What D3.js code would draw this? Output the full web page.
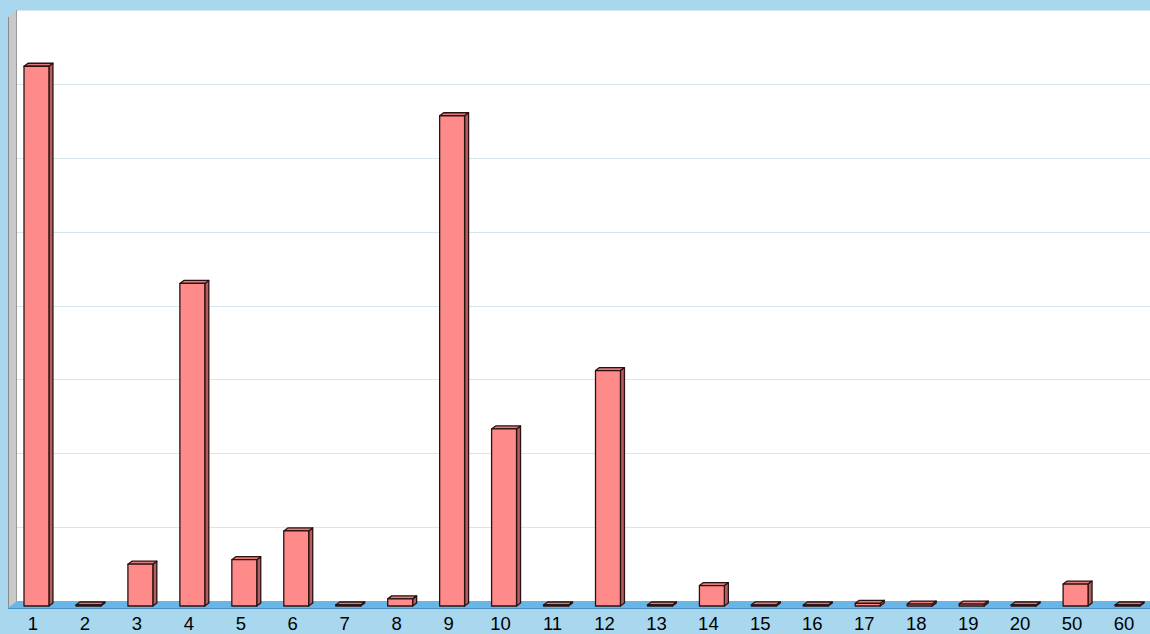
<!DOCTYPE html>
<html><head><meta charset="utf-8">
<script src="https://cdn.jsdelivr.net/npm/d3@7"></script>
<style>html,body{margin:0;padding:0;background:#a9d8ee;overflow:hidden}</style>
</head><body>
<svg id="chart" width="1150" height="634"></svg>
<script>
const categories = ["1","2","3","4","5","6","7","8","9","10","11","12","13","14","15","16","17","18","19","20","50","60"];
const values = [7.32,0.02,0.58,4.38,0.64,1.03,0.02,0.11,6.65,2.41,0.02,3.20,0.02,0.29,0.03,0.02,0.05,0.04,0.04,0.02,0.31,0.02];
const gridTicks = [1,2,3,4,5,6,7,8];

const svg = d3.select("#chart");
const W = 1150, H = 634;
const left = 8, baseFront = 608, topBack = 10;
const wdx = 9, wdy = -7;           // wall depth offset
const bdx = 4, bdy = -3;           // bar depth offset

const x = d3.scaleBand().domain(categories).range([22, 1138]).paddingInner(0.52).paddingOuter(0);
const y = d3.scaleLinear().domain([0, 8]).range([baseFront + wdy, topBack]);
const yb = v => y(v) - (baseFront + wdy) + baseFront - 1; // bar plane

// back wall
svg.append("rect").attr("x", left + wdx).attr("y", topBack).attr("width", W - left - wdx).attr("height", baseFront + wdy - topBack).attr("fill", "#ffffff");
// gridlines
svg.append("g").selectAll("line").data(gridTicks).join("line")
  .attr("x1", left + wdx).attr("x2", W).attr("y1", d => Math.round(y(d)) + 0.5).attr("y2", d => Math.round(y(d)) + 0.5)
  .attr("stroke", "#d3e7ec").attr("stroke-width", 1);
// left side wall
svg.append("polygon")
  .attr("points", [[left, topBack - wdy], [left + wdx, topBack], [left + wdx, baseFront + wdy], [left, baseFront]].join(" "))
  .attr("fill", "#c9c9c9");
svg.append("line").attr("x1", left + 0.5).attr("x2", left + 0.5).attr("y1", topBack - wdy).attr("y2", baseFront).attr("stroke", "#8a8a8a");
svg.append("line").attr("x1", left + wdx - 0.5).attr("x2", left + wdx - 0.5).attr("y1", topBack).attr("y2", baseFront + wdy).attr("stroke", "#9a9a9a");
// floor
svg.append("polygon")
  .attr("points", [[left, baseFront], [left + wdx, baseFront + wdy], [W, baseFront + wdy], [W, baseFront]].join(" "))
  .attr("fill", "#68b5e8");
svg.append("line").attr("x1", left).attr("x2", W).attr("y1", baseFront + 0.5).attr("y2", baseFront + 0.5).attr("stroke", "#4a90c0");

// bars
const bars = svg.append("g");
const bw = x.bandwidth();
const by0 = baseFront - 2;
values.forEach((v, i) => {
  const x0 = x(categories[i]) + 2;
  const top = Math.min(yb(v), by0 - 1);
  const g = bars.append("g").attr("stroke", "#2a1212").attr("stroke-width", 1.3).attr("stroke-linejoin", "round");
  g.append("polygon").attr("points", [[x0 + bw, top], [x0 + bw + bdx, top + bdy], [x0 + bw + bdx, by0 + bdy], [x0 + bw, by0]].join(" ")).attr("fill", "#b35f5f");
  g.append("polygon").attr("points", [[x0, top], [x0 + bdx, top + bdy], [x0 + bw + bdx, top + bdy], [x0 + bw, top]].join(" ")).attr("fill", "#e27a7a");
  g.append("rect").attr("x", x0).attr("y", top).attr("width", bw).attr("height", by0 - top).attr("fill", "#ff8a8a");
});

// category labels
svg.append("g").selectAll("text").data(categories).join("text")
  .attr("x", d => x(d) + 2 + bw / 2 - 3.5).attr("y", 629.5)
  .attr("text-anchor", "middle").attr("font-family", "Liberation Sans, Arial, sans-serif").attr("font-size", 18.5).attr("fill", "#000")
  .text(d => d);
</script>
</body></html>
